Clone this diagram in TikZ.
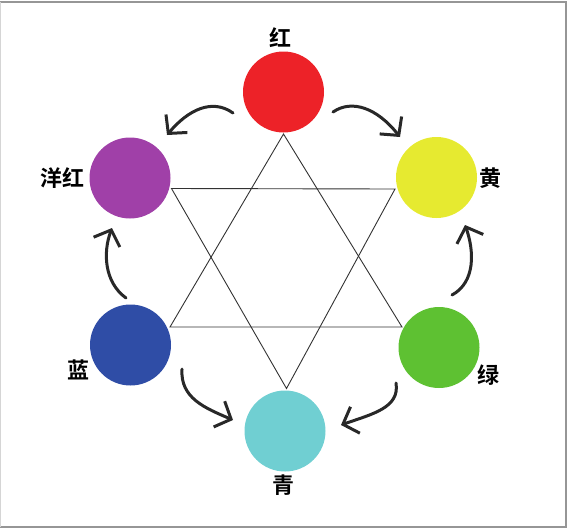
\documentclass[tikz,border=0pt]{standalone}
\usepackage{fontspec}
\newfontfamily\cjk{Noto Sans CJK SC}[BoldFont={* Bold}]
\usetikzlibrary{arrows.meta}
\definecolor{cred}{RGB}{237,34,40}
\definecolor{cmag}{RGB}{160,64,168}
\definecolor{cyel}{RGB}{230,234,48}
\definecolor{cblu}{RGB}{47,77,166}
\definecolor{cgrn}{RGB}{94,193,50}
\definecolor{ccya}{RGB}{112,207,210}
\definecolor{frame}{RGB}{150,150,150}
\definecolor{star}{RGB}{50,50,50}
\tikzset{
  dot/.style={circle, minimum size=81pt, inner sep=0pt},
  lab/.style={font=\cjk\bfseries\fontsize{22}{22}\selectfont, text=black, inner sep=0pt},
  curvearrow/.style={line width=3pt, draw={rgb,255:red,40;green,40;blue,40}, line cap=round,
    -{Straight Barb[length=13pt,width=28pt,line width=3pt]}},
  starline/.style={draw=star, line width=0.9pt, line join=miter}
}
\begin{document}
\begin{tikzpicture}[x=1pt,y=-1pt]
\useasboundingbox (0,0) rectangle (569,528);
\draw[frame, line width=1.5pt] (0,2) -- (566,2) -- (566,527) -- (0,527);
\draw[frame!40, line width=0.8pt] (0.4,2) -- (0.4,527);

% circles
\node[dot, fill=cred] (R) at (283.5,92) {};
\node[dot, fill=cmag] (M) at (130,178) {};
\node[dot, fill=cyel] (Y) at (436.5,177.5) {};
\node[dot, fill=cblu] (B) at (130.5,345) {};
\node[dot, fill=cgrn] (G) at (439,347.5) {};
\node[dot, fill=ccya] (C) at (285,431) {};

% labels
\node[lab] (lR) at (280,38) {红};
\node[lab] (lM) at (62.5,178) {洋红};
\node[lab] (lY) at (490,178.5) {黄};
\node[lab] (lB) at (78,370) {蓝};
\node[lab] (lG) at (488.5,375) {绿};
\node[lab] (lC) at (283.5,485) {青};

% star of David
\coordinate (u1) at (283.5,134);
\coordinate (u2) at (170,327);
\coordinate (u3) at (402,327);
\coordinate (d1) at (171.5,188.5);
\coordinate (d2) at (395,189);
\coordinate (d3) at (286.5,388.5);
\draw[starline] (u1) -- (u2) -- (u3) -- cycle;
\draw[starline] (d1) -- (d2) -- (d3) -- cycle;

% arrows
\coordinate (a1s) at (233,113);  \coordinate (a1e) at (167,135);
\coordinate (a2s) at (333,112);  \coordinate (a2e) at (400,137);
\coordinate (a3s) at (126,298);  \coordinate (a3e) at (112,228);
\coordinate (a4s) at (452,295);  \coordinate (a4e) at (465,225);
\coordinate (a5s) at (182,369);  \coordinate (a5e) at (233,420);
\coordinate (a6s) at (396,383);  \coordinate (a6e) at (341,425);
\draw[curvearrow] (a1s) .. controls (212,98) and (188,110) .. (a1e);
\draw[curvearrow] (a2s) .. controls (352,99) and (377,108) .. (a2e);
\draw[curvearrow] (a3s) .. controls (104,282) and (103,252) .. (a3e);
\draw[curvearrow] (a4s) .. controls (476,282) and (474,250) .. (a4e);
\draw[curvearrow] (a5s) .. controls (180,398) and (205,408) .. (a5e);
\draw[curvearrow] (a6s) .. controls (400,408) and (372,414) .. (a6e);
\end{tikzpicture}
\end{document}
